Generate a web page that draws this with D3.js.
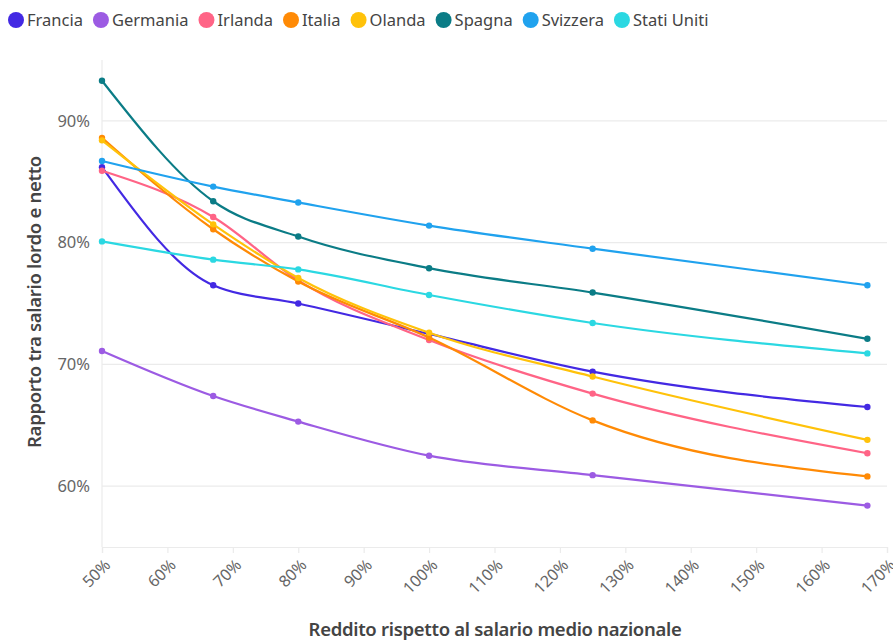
<!DOCTYPE html>
<html>
<head>
<meta charset="utf-8">
<script src="https://cdn.jsdelivr.net/npm/d3@7"></script>
<style>
  body { margin: 0; background: #fff; }
  svg { font-family: "Noto Sans", Roboto, sans-serif; }
</style>
</head>
<body>
<svg id="chart" width="893" height="642"></svg>
<script>
// income levels, % of national average wage
var levels = [50, 67, 80, 100, 125, 167];

var countries = ["Francia", "Germania", "Irlanda", "Italia", "Olanda", "Spagna", "Svizzera", "Stati Uniti"];
var colors = ["#4329e3", "#9c5be3", "#ff6486", "#ff8a05", "#ffc20a", "#0b7c86", "#20a2ee", "#2bd8e2"];

// net / gross ratio (%)
var francia    = [86.2, 76.5, 75.0, 72.5, 69.4, 66.5];
var germania   = [71.1, 67.4, 65.3, 62.5, 60.9, 58.4];
var irlanda    = [85.9, 82.1, 76.9, 72.0, 67.6, 62.7];
var italia     = [88.6, 81.1, 76.8, 72.2, 65.4, 60.8];
var olanda     = [88.4, 81.5, 77.1, 72.6, 69.0, 63.8];
var spagna     = [93.3, 83.4, 80.5, 77.9, 75.9, 72.1];
var svizzera   = [86.7, 84.6, 83.3, 81.4, 79.5, 76.5];
var statiUniti = [80.1, 78.6, 77.8, 75.7, 73.4, 70.9];

var series = [francia, germania, irlanda, italia, olanda, spagna, svizzera, statiUniti];

var xTicks = [50, 60, 70, 80, 90, 100, 110, 120, 130, 140, 150, 160, 170];
var yTicks = [60, 70, 80, 90];

var svg = d3.select("#chart");

var x = d3.scaleLinear().domain([50, 170]).range([102, 887]);
var y = d3.scaleLinear().domain([55, 95]).range([547, 60]);

// grid
svg.append("g")
  .attr("class", "grid")
  .selectAll("line")
  .data(yTicks)
  .enter().append("line")
  .attr("x1", 102).attr("x2", 887)
  .attr("y1", function(d) { return y(d); })
  .attr("y2", function(d) { return y(d); })
  .attr("stroke", "#ebebeb")
  .attr("stroke-width", 1.2);

svg.append("line")
  .attr("x1", 102).attr("x2", 102)
  .attr("y1", 60).attr("y2", 547)
  .attr("stroke", "#ebebeb").attr("stroke-width", 1.2);

// y axis labels
svg.append("g")
  .selectAll("text")
  .data(yTicks)
  .enter().append("text")
  .attr("x", 90)
  .attr("y", function(d) { return y(d); })
  .attr("dy", "0.35em")
  .attr("text-anchor", "end")
  .attr("fill", "#666")
  .attr("font-size", 16.5)
  .text(function(d) { return d + "%"; });

// x axis
var xAxis = svg.append("g")
  .attr("transform", "translate(0,547)")
  .call(d3.axisBottom(x).tickValues(xTicks).tickSize(6).tickFormat(function(d) { return d + "%"; }));

xAxis.select(".domain").attr("stroke", "#ebebeb").attr("stroke-width", 1.2);
xAxis.selectAll(".tick line").attr("stroke", "#ebebeb").attr("stroke-width", 1.2);
xAxis.selectAll(".tick text")
  .attr("fill", "#666")
  .attr("font-size", 16)
  .attr("font-family", "\"Noto Sans\", Roboto, sans-serif")
  .attr("text-anchor", "end")
  .attr("x", 0).attr("y", 0)
  .attr("dy", null)
  .attr("transform", "translate(9,19) rotate(-45)");

// axis titles
svg.append("text")
  .attr("x", 495).attr("y", 636)
  .attr("text-anchor", "middle")
  .attr("font-size", 18.5)
  .attr("font-weight", 600)
  .attr("fill", "#444")
  .attr("letter-spacing", -0.3)
  .text("Reddito rispetto al salario medio nazionale");

svg.append("text")
  .attr("transform", "translate(41,302) rotate(-90)")
  .attr("text-anchor", "middle")
  .attr("font-size", 18.5)
  .attr("font-weight", 600)
  .attr("fill", "#444")
  .attr("letter-spacing", -0.3)
  .text("Rapporto tra salario lordo e netto");

// lines
var line = d3.line()
  .x(function(d, i) { return x(levels[i]); })
  .y(function(d) { return y(d); })
  .curve(d3.curveMonotoneX);

var lines = svg.append("g").attr("class", "lines");

series.forEach(function(values, k) {
  var g = lines.append("g");
  g.append("path")
    .attr("d", line(values))
    .attr("fill", "none")
    .attr("stroke", colors[k])
    .attr("stroke-width", 2.2);
  g.selectAll("circle")
    .data(values)
    .enter().append("circle")
    .attr("cx", function(d, i) { return x(levels[i]); })
    .attr("cy", function(d) { return y(d); })
    .attr("r", 3.2)
    .attr("fill", colors[k]);
});

// legend
var legend = svg.append("g").attr("class", "legend");
var lx = 8;
countries.forEach(function(name, k) {
  legend.append("circle")
    .attr("cx", lx + 8).attr("cy", 20).attr("r", 8)
    .attr("fill", colors[k]);
  var t = legend.append("text")
    .attr("x", lx + 19).attr("y", 20)
    .attr("dy", "0.35em")
    .attr("font-size", 16.5)
    .attr("fill", "#444")
    .text(name);
  lx += 19 + t.node().getComputedTextLength() + 10;
});
</script>
</body>
</html>
